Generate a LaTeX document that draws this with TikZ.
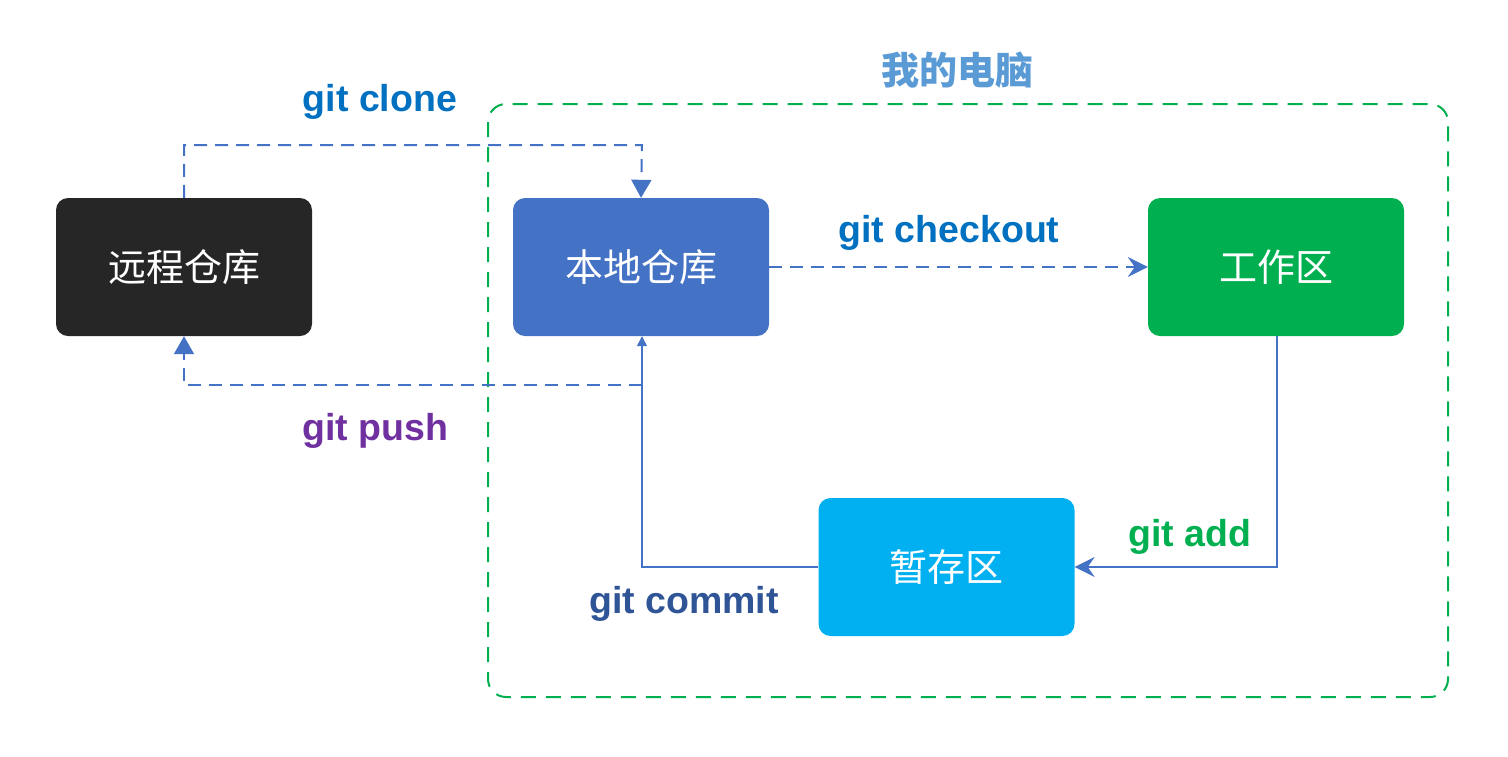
\documentclass[tikz,border=0pt]{standalone}
\usepackage{fontspec}
\setmainfont{Liberation Sans}
\newfontfamily\cjk{Noto Sans CJK SC}
\usetikzlibrary{arrows.meta}
\definecolor{cremote}{HTML}{262626}
\definecolor{clocal}{HTML}{4472C4}
\definecolor{cwork}{HTML}{00B050}
\definecolor{cstage}{HTML}{00B0F0}
\definecolor{ctitle}{HTML}{5B9BD5}
\definecolor{cclone}{HTML}{0070C0}
\definecolor{cpush}{HTML}{7030A0}
\definecolor{ccommit}{HTML}{2F5597}
\definecolor{cline}{HTML}{4472C4}
\tikzset{
  repo/.style={rounded corners=12pt, minimum width=256pt, minimum height=138pt, inner sep=0pt,
    text=white, font=\cjk\fontsize{38}{44}\selectfont},
  lbl/.style={font=\bfseries\fontsize{37.5}{44}\selectfont, inner sep=0pt},
  dashln/.style={draw=cline, line width=2pt, dash pattern=on 13pt off 8pt},
  solidln/.style={draw=cline, line width=1.5pt},
  tri/.style={-{Triangle[length=18pt,width=20pt]}},
  stl/.style={-{Stealth[length=20pt,width=20pt,inset=7pt]}},
}
\begin{document}
\begin{tikzpicture}[x=1pt,y=-1pt]
\useasboundingbox (0,0) rectangle (1508,756);
% my computer frame
\draw[draw=cwork, line width=2pt, dash pattern=on 15pt off 10pt, rounded corners=18pt] (488,104) rectangle (1448,697);
\node[font=\cjk\bfseries\fontsize{38}{44}\selectfont, text=ctitle, inner sep=0pt] (title) at (957,70) {我的电脑};
% boxes
\node[repo, fill=cremote] (remote) at (184,267) {远程仓库};
\node[repo, fill=clocal] (local) at (641,267) {本地仓库};
\node[repo, fill=cwork] (work) at (1276,267) {工作区};
\node[repo, fill=cstage] (stage) at (946.5,567) {暂存区};
% clone
\coordinate (c1) at (184,145);
\coordinate (c2) at (642,145);
\draw[dashln, tri] (remote.north) -- (c1) -- (c2) -- (local.north);
\node[lbl, text=cclone] (lclone) at (380,102) {git clone};
% push
\coordinate (p1) at (642,385);
\coordinate (p2) at (184,385);
\draw[dashln, tri] (p1) -- (p2) -- (remote.south);
\node[lbl, text=cpush] (lpush) at (375.5,431) {git push};
% checkout
\draw[dashln, stl] (local.east) -- (work.west);
\node[lbl, text=cclone] (lcheckout) at (949,233) {git checkout};
% add
\coordinate (a1) at (1277,567);
\draw[solidln, stl] (work.south -| a1) -- (a1) -- (stage.east);
\node[lbl, text=cwork] (ladd) at (1190,537) {git add};
% commit
\coordinate (m1) at (642,567);
\draw[solidln, -{Triangle[length=10pt,width=10pt]}] (stage.west) -- (m1) -- (local.south -| m1);
\draw[dashln] (local.south -| m1) ++(0,14) -- (p1);
\node[lbl, text=ccommit] (lcommit) at (684,604) {git commit};
\end{tikzpicture}
\end{document}
